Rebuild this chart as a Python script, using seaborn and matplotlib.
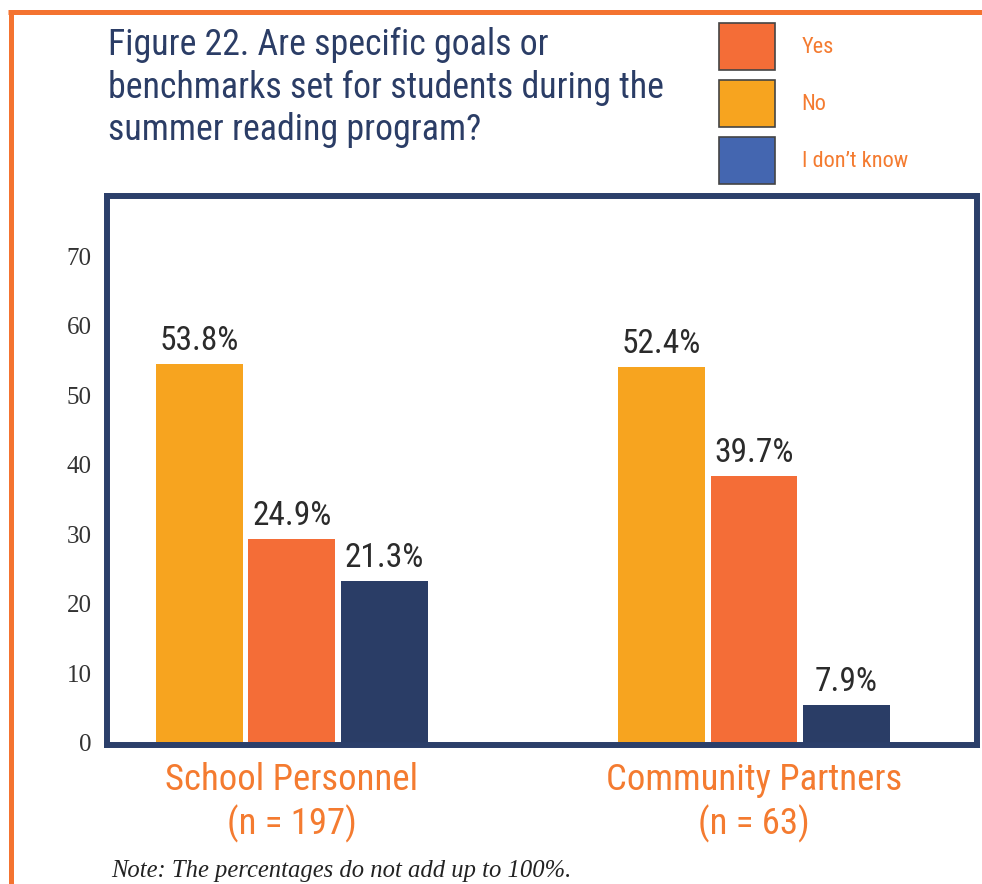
import matplotlib
matplotlib.use("Agg")
import matplotlib.pyplot as plt
import seaborn as sns
import pandas as pd
from matplotlib.patches import Patch
from matplotlib.lines import Line2D
from matplotlib import font_manager

# ---------------- data ----------------
groups = ["School Personnel\n(n = 197)", "Community Partners\n(n = 63)"]
responses = ["No", "Yes", "I don't know"]
no_vals = [54.5, 54.1]
yes_vals = [29.4, 38.4]
idk_vals = [23.3, 5.4]
no_labels = ["53.8%", "52.4%"]
yes_labels = ["24.9%", "39.7%"]
idk_labels = ["21.3%", "7.9%"]
legend_order = ["Yes", "No", "I don’t know"]
legend_keys = ["Yes", "No", "I don't know"]
yticks = [0, 10, 20, 30, 40, 50, 60, 70]
title_lines = ["Figure 22. Are specific goals or",
               "benchmarks set for students during the",
               "summer reading program?"]
note_text = "Note: The percentages do not add up to 100%."

# ---------------- style ----------------
bar_colors = {"No": "#F7A41F", "Yes": "#F46D37", "I don't know": "#2A3D66"}
legend_colors = {"Yes": "#F46D37", "No": "#F7A41F", "I don't know": "#4466B0"}
navy = "#2B3F6A"
orange_txt = "#F47B30"
orange_line = "#F47330"


def pick(cands):
    for c in cands:
        try:
            font_manager.findfont(c, fallback_to_default=False)
            return c
        except Exception:
            pass
    return "DejaVu Sans"


narrow = pick(["Liberation Sans Narrow", "Roboto Condensed", "Liberation Sans"])
serif = pick(["Liberation Serif", "DejaVu Serif"])

sns.set_theme(style="white")
plt.rcParams["font.family"] = [narrow, "DejaVu Sans"]

W, H = 982, 884
fig = plt.figure(figsize=(W / 100, H / 100), dpi=100)
fig.patch.set_facecolor("white")

# axes box (spine centres)
L, R, T, B = 107, 977, 196, 745
ax = fig.add_axes([L / W, 1 - B / H, (R - L) / W, (B - T) / H])

df = pd.DataFrame({
    "group": groups * 3,
    "response": ["No"] * 2 + ["Yes"] * 2 + ["I don't know"] * 2,
    "value": no_vals + yes_vals + idk_vals,
})

sns.barplot(data=df, x="group", y="value", hue="response", order=groups,
            hue_order=responses, palette=bar_colors, width=0.6, gap=0.062,
            legend=False, ax=ax, linewidth=0, saturation=1)

for cont, labs in zip(ax.containers, [no_labels, yes_labels, idk_labels]):
    ax.bar_label(cont, labels=labs, padding=5, fontsize=24, color="#2B2B2B",
                 family=[narrow, "DejaVu Sans"])

ax.set_xlim(-0.40, 1.483)
ax.set_ylim(-0.3, 78.7)
ax.set_yticks(yticks)
ax.set_yticklabels([str(v) for v in yticks], family=serif, fontsize=18,
                   color="#333333")
ax.tick_params(axis="y", length=0, pad=11)
ax.tick_params(axis="x", length=0, pad=12, labelsize=26.5, labelcolor=orange_txt)
for t in ax.get_xticklabels():
    t.set_linespacing(1.25)
ax.set_xlabel("")
ax.set_ylabel("")
for s in ax.spines.values():
    s.set_visible(True)
    s.set_color(navy)
    s.set_linewidth(4.3)
ax.grid(False)

# title
for i, line in enumerate(title_lines):
    fig.text(108 / W, 1 - (55 + 42.5 * i) / H, line, fontsize=25.8, color="#2B3D66",
             ha="left", va="baseline")

# legend
handles = [Patch(facecolor=legend_colors[k], edgecolor="#444444", linewidth=1.2)
           for k in legend_keys]
fig.legend(handles, legend_order, loc="upper left",
           bbox_to_anchor=(719 / W, 1 - 23 / H), frameon=False, fontsize=16,
           labelcolor=orange_txt, handlelength=2.52, handleheight=2.88,
           labelspacing=0.45, handletextpad=1.2, borderpad=0, borderaxespad=0)

# note
fig.text(111.5 / W, 1 - 877.5 / H, note_text, family=serif, style="italic",
         fontsize=17.7, color="#222222", ha="left", va="baseline")

# orange page borders
fig.add_artist(Line2D([8 / W, 1], [1 - 11.5 / H] * 2, color=orange_line, lw=3.6,
                      transform=fig.transFigure, solid_capstyle="butt"))
fig.add_artist(Line2D([10.5 / W] * 2, [1 - 9.5 / H, 0], color=orange_line, lw=3.6,
                      transform=fig.transFigure, solid_capstyle="butt"))

fig.savefig("out.png", dpi=100)
